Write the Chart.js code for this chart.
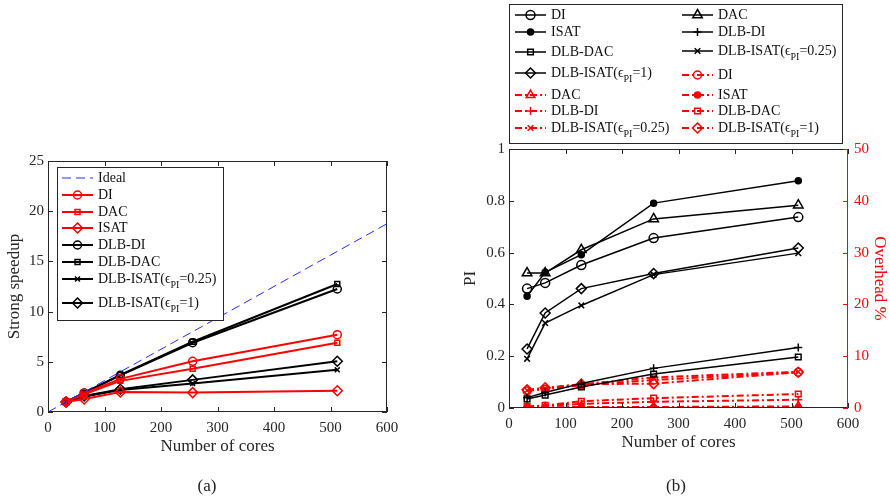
<!DOCTYPE html>
<html>
<head>
<meta charset="utf-8">
<script src="https://cdn.jsdelivr.net/npm/chart.js@4/dist/chart.umd.min.js"></script>
<style>
  body { margin: 0; background: #fff; }
  #wrap { position: relative; width: 890px; height: 502px; background: #fff; }
  .pane { position: absolute; top: 0; width: 445px; height: 502px; }
  .cap { position: absolute; top: 476px; font: 17px 'Liberation Serif', 'Times New Roman', serif; color: #222; width: 40px; text-align: center; }
</style>
</head>
<body>
<div id="wrap">
  <div class="pane" style="left:0"><canvas id="speedupChart" width="445" height="502"></canvas></div>
  <div class="pane" style="left:445px"><canvas id="piChart" width="445" height="502"></canvas></div>
  <div class="cap" style="left:187px">(a)</div>
  <div class="cap" style="left:656px">(b)</div>
</div>
<script>
// ---- data ----
const cores = [32, 64, 128, 256, 512];
const idealCores = [0, 600];
const idealSpeedup = [0, 18.75];

// (a) strong speedup
const speedupDI = [1.0, 1.85, 3.3, 5.05, 7.7];
const speedupDAC = [1.0, 1.75, 3.1, 4.3, 6.9];
const speedupISAT = [1.0, 1.3, 2.0, 1.93, 2.12];
const speedupDlbDI = [1.0, 1.9, 3.65, 6.9, 12.25];
const speedupDlbDAC = [1.0, 1.9, 3.7, 7.0, 12.75];
const speedupDlbIsat025 = [1.0, 1.55, 2.2, 2.85, 4.2];
const speedupDlbIsat1 = [1.0, 1.6, 2.26, 3.2, 5.05];

// (b) PI (left axis)
const piDI = [0.461, 0.483, 0.552, 0.656, 0.737];
const piDAC = [0.521, 0.521, 0.611, 0.73, 0.783];
const piISAT = [0.431, 0.524, 0.592, 0.791, 0.877];
const piDlbDI = [0.04, 0.06, 0.095, 0.153, 0.234];
const piDlbDAC = [0.035, 0.05, 0.081, 0.131, 0.197];
const piDlbIsat025 = [0.19, 0.328, 0.396, 0.515, 0.598];
const piDlbIsat1 = [0.228, 0.367, 0.461, 0.519, 0.618];

// (b) overhead % (right axis)
const ohDI = [3.3, 3.6, 4.4, 5.4, 6.9];
const ohDAC = [0.1, 0.1, 0.2, 0.2, 0.3];
const ohISAT = [0.05, 0.05, 0.1, 0.1, 0.1];
const ohDlbDI = [0.2, 0.4, 0.8, 1.2, 1.6];
const ohDlbDAC = [0.3, 0.5, 1.3, 1.9, 2.7];
const ohDlbIsat025 = [3.4, 3.8, 4.6, 5.9, 7.0];
const ohDlbIsat1 = [3.5, 3.9, 4.6, 4.7, 6.9];

const FONT = "'Liberation Serif', 'Times New Roman', serif";
const INK = '#262626';
const RED = '#ff0000';

function pts(xs, ys) {
    return xs.map((x, i) => ({ x: x, y: ys[i] }));
}

function series(label, xs, ys, color, style, extra) {
    return Object.assign({
        label: label,
        data: pts(xs, ys),
        borderColor: color,
        backgroundColor: color,
        borderWidth: 2,
        pointStyle: style,
        pointRadius: 4,
        pointBorderWidth: 1.5,
        pointBorderColor: color,
        pointBackgroundColor: 'rgba(0,0,0,0)',
        tension: 0
    }, extra || {});
}

// draw a marker for the legend (same shapes as chart.js point styles)
function drawMarker(ctx, style, r, x, y, color, filled) {
    if (!style) return;
    ctx.save();
    ctx.strokeStyle = color;
    ctx.fillStyle = color;
    ctx.lineWidth = 1.5;
    ctx.beginPath();
    if (style === 'circle') {
        ctx.arc(x, y, r, 0, Math.PI * 2);
    } else if (style === 'rect') {
        const s = r * Math.SQRT1_2;
        ctx.rect(x - s, y - s, 2 * s, 2 * s);
    } else if (style === 'rectRot') {
        ctx.moveTo(x, y - r); ctx.lineTo(x + r, y); ctx.lineTo(x, y + r); ctx.lineTo(x - r, y); ctx.closePath();
    } else if (style === 'triangle') {
        ctx.moveTo(x, y - r);
        ctx.lineTo(x + r * Math.sin(Math.PI / 3), y + r / 2);
        ctx.lineTo(x - r * Math.sin(Math.PI / 3), y + r / 2);
        ctx.closePath();
    } else if (style === 'cross') {
        ctx.moveTo(x - r, y); ctx.lineTo(x + r, y); ctx.moveTo(x, y - r); ctx.lineTo(x, y + r);
    } else if (style === 'crossRot') {
        const s = r * Math.SQRT1_2;
        ctx.moveTo(x - s, y - s); ctx.lineTo(x + s, y + s); ctx.moveTo(x - s, y + s); ctx.lineTo(x + s, y - s);
    }
    if (filled) ctx.fill();
    ctx.stroke();
    ctx.restore();
}

// label text with "_{..}" subscript
function drawLabel(ctx, text, x, y) {
    const m = text.match(/^(.*)_\{(.*?)\}(.*)$/);
    ctx.save();
    ctx.fillStyle = '#111';
    ctx.textBaseline = 'middle';
    ctx.textAlign = 'left';
    ctx.font = '14px ' + FONT;
    if (!m) {
        ctx.fillText(text, x, y);
    } else {
        ctx.fillText(m[1], x, y);
        let cx = x + ctx.measureText(m[1]).width;
        ctx.font = '10px ' + FONT;
        ctx.fillText(m[2], cx, y + 6);
        cx += ctx.measureText(m[2]).width;
        ctx.font = '14px ' + FONT;
        ctx.fillText(m[3], cx, y);
    }
    ctx.restore();
}

// boxed legend drawn at fixed spots
const boxLegend = {
    id: 'boxLegend',
    afterDraw(chart, args, opts) {
        const ctx = chart.ctx;
        const [l, t, r, b] = opts.box;
        ctx.save();
        ctx.fillStyle = '#fff';
        ctx.fillRect(l, t, r - l, b - t);
        ctx.strokeStyle = INK;
        ctx.lineWidth = 1;
        ctx.strokeRect(l + 0.5, t + 0.5, r - l, b - t);
        ctx.restore();
        opts.items.forEach(item => {
            const ds = chart.data.datasets[item.index];
            const x0 = item.x, x1 = item.x + opts.sample, y = item.y;
            ctx.save();
            ctx.strokeStyle = ds.borderColor;
            ctx.lineWidth = ds.borderWidth;
            ctx.setLineDash(ds.borderDash || []);
            ctx.beginPath();
            ctx.moveTo(x0, y);
            ctx.lineTo(x1, y);
            ctx.stroke();
            ctx.restore();
            if (ds.pointRadius > 0) {
                drawMarker(ctx, ds.pointStyle, ds.pointRadius, (x0 + x1) / 2, y, ds.borderColor,
                           ds.pointBackgroundColor !== 'rgba(0,0,0,0)');
            }
            drawLabel(ctx, ds.label, x1 + 5, y);
        });
    }
};

// MATLAB style box with inward ticks
const axesBox = {
    id: 'axesBox',
    afterDatasetsDraw(chart) {
        const ctx = chart.ctx;
        const a = chart.chartArea;
        const sc = chart.scales;
        const len = 5;
        ctx.save();
        ctx.lineWidth = 1;
        ctx.strokeStyle = INK;
        ctx.beginPath();
        ctx.moveTo(a.left + 0.5, a.top + 0.5);
        ctx.lineTo(a.right - 0.5, a.top + 0.5);
        ctx.moveTo(a.left + 0.5, a.top);
        ctx.lineTo(a.left + 0.5, a.bottom - 0.5);
        ctx.lineTo(a.right - 0.5, a.bottom - 0.5);
        if (!sc.y1) {
            ctx.moveTo(a.right - 0.5, a.top);
            ctx.lineTo(a.right - 0.5, a.bottom);
        }
        sc.x.ticks.forEach(t => {
            const px = Math.round(sc.x.getPixelForValue(t.value)) + 0.5;
            ctx.moveTo(px, a.bottom); ctx.lineTo(px, a.bottom - len);
            ctx.moveTo(px, a.top); ctx.lineTo(px, a.top + len);
        });
        sc.y.ticks.forEach(t => {
            const py = Math.round(sc.y.getPixelForValue(t.value)) + 0.5;
            ctx.moveTo(a.left, py); ctx.lineTo(a.left + len, py);
            if (!sc.y1) { ctx.moveTo(a.right, py); ctx.lineTo(a.right - len, py); }
        });
        ctx.stroke();
        if (sc.y1) {
            ctx.strokeStyle = RED;
            ctx.beginPath();
            ctx.moveTo(a.right - 0.5, a.top);
            ctx.lineTo(a.right - 0.5, a.bottom);
            sc.y1.ticks.forEach(t => {
                const py = Math.round(sc.y1.getPixelForValue(t.value)) + 0.5;
                ctx.moveTo(a.right, py); ctx.lineTo(a.right - len, py);
            });
            ctx.stroke();
        }
        ctx.restore();
    }
};

function xScale() {
    return {
        type: 'linear', min: 0, max: 600,
        grid: { display: false, drawTicks: false },
        border: { display: false },
        ticks: { stepSize: 100, padding: 7, color: INK, font: { family: FONT, size: 15 } },
        title: { display: true, text: 'Number of cores', color: INK, padding: { top: 0, bottom: 1 },
                 font: { family: FONT, size: 17 } },
        afterFit: s => { s.height = 46; }
    };
}

Chart.defaults.font.family = FONT;

// ---- (a) strong speedup ----
new Chart(document.getElementById('speedupChart'), {
    type: 'line',
    data: {
        datasets: [
            { label: 'Ideal', data: pts(idealCores, idealSpeedup), borderColor: '#2b2bff', borderWidth: 1,
              borderDash: [9, 5], pointRadius: 0 },
            series('DI', cores, speedupDI, RED, 'circle'),
            series('DAC', cores, speedupDAC, RED, 'rect', { pointRadius: 3.5 }),
            series('ISAT', cores, speedupISAT, RED, 'rectRot', { pointRadius: 5 }),
            series('DLB-DI', cores, speedupDlbDI, '#000', 'circle'),
            series('DLB-DAC', cores, speedupDlbDAC, '#000', 'rect', { pointRadius: 3.5 }),
            series('DLB-ISAT(ϵ_{PI}=0.25)', cores, speedupDlbIsat025, '#000', 'crossRot', { pointRadius: 3.5 }),
            series('DLB-ISAT(ϵ_{PI}=1)', cores, speedupDlbIsat1, '#000', 'rectRot', { pointRadius: 5 })
        ]
    },
    options: {
        responsive: false,
        animation: false,
        layout: { padding: { top: 161, right: 58, bottom: 44, left: 0 } },
        plugins: {
            legend: { display: false },
            tooltip: { enabled: false },
            boxLegend: {
                box: [57, 167, 223, 320],
                sample: 31,
                items: [
                    { index: 0, x: 62, y: 178 },
                    { index: 1, x: 62, y: 195 },
                    { index: 2, x: 62, y: 212 },
                    { index: 3, x: 62, y: 228 },
                    { index: 4, x: 62, y: 245 },
                    { index: 5, x: 62, y: 262 },
                    { index: 6, x: 62, y: 279 },
                    { index: 7, x: 62, y: 303 }
                ]
            }
        },
        scales: {
            x: xScale(),
            y: {
                min: 0, max: 25,
                grid: { display: false, drawTicks: false },
                border: { display: false },
                ticks: { stepSize: 5, padding: 4, color: INK, font: { family: FONT, size: 15 } },
                title: { display: true, text: 'Strong speedup', color: INK, padding: { top: 4, bottom: 0 },
                         font: { family: FONT, size: 17 } },
                afterFit: s => { s.width = 48; }
            }
        }
    },
    plugins: [axesBox, boxLegend]
});

// ---- (b) PI and overhead ----
const dashDot = [7, 3, 2, 3];
function ohSeries(label, ys, style, extra) {
    return series(label, cores, ys, RED, style, Object.assign({ yAxisID: 'y1', borderDash: dashDot }, extra || {}));
}
function piSeries(label, ys, style, extra) {
    return series(label, cores, ys, '#000', style, Object.assign({ borderWidth: 1.5 }, extra || {}));
}

new Chart(document.getElementById('piChart'), {
    type: 'line',
    data: {
        datasets: [
            piSeries('DI', piDI, 'circle', { pointRadius: 4.5 }),
            piSeries('DAC', piDAC, 'triangle', { pointRadius: 5.5 }),
            piSeries('ISAT', piISAT, 'circle', { pointRadius: 3, pointBackgroundColor: '#000' }),
            piSeries('DLB-DI', piDlbDI, 'cross', { pointRadius: 4 }),
            piSeries('DLB-DAC', piDlbDAC, 'rect', { pointRadius: 4 }),
            piSeries('DLB-ISAT(ϵ_{PI}=0.25)', piDlbIsat025, 'crossRot', { pointRadius: 4 }),
            piSeries('DLB-ISAT(ϵ_{PI}=1)', piDlbIsat1, 'rectRot', { pointRadius: 5 }),
            ohSeries('DI', ohDI, 'circle', { pointRadius: 4 }),
            ohSeries('DAC', ohDAC, 'triangle', { pointRadius: 5 }),
            ohSeries('ISAT', ohISAT, 'circle', { pointRadius: 3, pointBackgroundColor: RED }),
            ohSeries('DLB-DI', ohDlbDI, 'cross', { pointRadius: 4 }),
            ohSeries('DLB-DAC', ohDlbDAC, 'rect', { pointRadius: 4 }),
            ohSeries('DLB-ISAT(ϵ_{PI}=0.25)', ohDlbIsat025, 'crossRot', { pointRadius: 4 }),
            ohSeries('DLB-ISAT(ϵ_{PI}=1)', ohDlbIsat1, 'rectRot', { pointRadius: 5 })
        ]
    },
    options: {
        responsive: false,
        animation: false,
        layout: { padding: { top: 149, right: 0, bottom: 48, left: 0 } },
        plugins: {
            legend: { display: false },
            tooltip: { enabled: false },
            boxLegend: {
                box: [64, 4, 397, 143],
                sample: 31,
                items: [
                    { index: 0, x: 70, y: 15 }, { index: 1, x: 237, y: 15 },
                    { index: 2, x: 70, y: 32 }, { index: 3, x: 237, y: 32 },
                    { index: 4, x: 70, y: 52 }, { index: 5, x: 237, y: 51 },
                    { index: 6, x: 70, y: 73 }, { index: 7, x: 237, y: 75 },
                    { index: 8, x: 70, y: 95 }, { index: 9, x: 237, y: 95 },
                    { index: 10, x: 70, y: 111 }, { index: 11, x: 237, y: 111 },
                    { index: 12, x: 70, y: 128 }, { index: 13, x: 237, y: 128 }
                ]
            }
        },
        scales: {
            x: xScale(),
            y: {
                position: 'left', min: 0, max: 1,
                grid: { display: false, drawTicks: false },
                border: { display: false },
                ticks: { stepSize: 0.2, padding: 4, color: INK, font: { family: FONT, size: 15 },
                         callback: v => String(Number(v.toFixed(1))) },
                title: { display: true, text: 'PI', color: INK, padding: { top: 15, bottom: 0 },
                         font: { family: FONT, size: 17 } },
                afterFit: s => { s.width = 64; }
            },
            y1: {
                position: 'right', min: 0, max: 50,
                grid: { display: false, drawTicks: false },
                border: { display: false },
                ticks: { stepSize: 10, padding: 6, color: RED, font: { family: FONT, size: 15 } },
                title: { display: true, text: 'Overhead %', color: RED, padding: { top: 0, bottom: 0 },
                         font: { family: FONT, size: 17 } },
                afterFit: s => { s.width = 42; }
            }
        }
    },
    plugins: [axesBox, boxLegend]
});
</script>
</body>
</html>
